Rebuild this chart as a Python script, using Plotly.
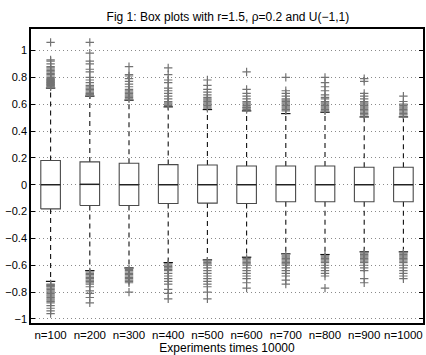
import plotly.graph_objects as go

labels = ["n=100", "n=200", "n=300", "n=400", "n=500", "n=600", "n=700", "n=800", "n=900", "n=1000"]
q3 = [0.18, 0.17, 0.16, 0.15, 0.147, 0.14, 0.14, 0.14, 0.13, 0.13]
q1 = [-0.18, -0.155, -0.155, -0.14, -0.137, -0.14, -0.127, -0.127, -0.127, -0.127]
median = [0.0, 0.003, 0.0, 0.0, 0.0, 0.0, 0.0, 0.0, 0.0, 0.0]
upper_whisker = [0.72, 0.66, 0.63, 0.58, 0.56, 0.55, 0.53, 0.54, 0.505, 0.505]
lower_whisker = [-0.72, -0.64, -0.62, -0.58, -0.56, -0.54, -0.515, -0.52, -0.50, -0.50]

out_n100 = [1.06, 0.93, 0.92, 0.90, 0.88, 0.87, 0.86, 0.85, 0.84, 0.83, 0.82, 0.81, 0.80, 0.79, 0.785, 0.78,
            0.775, 0.77, 0.765, 0.76, 0.755, 0.75, 0.745, 0.74, 0.735, 0.73,
            -0.74, -0.745, -0.75, -0.755, -0.76, -0.77, -0.78, -0.79, -0.80, -0.81, -0.82, -0.83, -0.84,
            -0.85, -0.86, -0.87, -0.88, -0.90, -0.92, -0.94, -0.96]
out_n200 = [1.06, 0.98, 0.92, 0.90, 0.86, 0.84, 0.80, 0.78, 0.76, 0.74, 0.73, 0.72, 0.71, 0.70, 0.69, 0.68,
            0.675, 0.67,
            -0.65, -0.66, -0.67, -0.68, -0.69, -0.70, -0.71, -0.72, -0.73, -0.74, -0.76, -0.79, -0.81,
            -0.84, -0.88]
out_n300 = [0.88, 0.82, 0.81, 0.79, 0.77, 0.75, 0.73, 0.71, 0.70, 0.69, 0.68, 0.67, 0.66, 0.65, 0.64,
            -0.63, -0.64, -0.65, -0.66, -0.67, -0.68, -0.69, -0.70, -0.71, -0.72, -0.73, -0.80]
out_n400 = [0.87, 0.82, 0.78, 0.76, 0.72, 0.70, 0.68, 0.66, 0.64, 0.62, 0.61, 0.60, 0.59,
            -0.59, -0.60, -0.61, -0.62, -0.63, -0.64, -0.66, -0.68, -0.70, -0.72, -0.74, -0.78, -0.81, -0.85]
out_n500 = [0.78, 0.74, 0.71, 0.69, 0.67, 0.65, 0.64, 0.63, 0.62, 0.61, 0.60, 0.59, 0.58, 0.57,
            -0.57, -0.58, -0.59, -0.60, -0.62, -0.64, -0.66, -0.68, -0.70, -0.72, -0.74, -0.76, -0.80, -0.85]
out_n600 = [0.84, 0.71, 0.68, 0.66, 0.64, 0.62, 0.61, 0.60, 0.59, 0.58, 0.575, 0.57, 0.56,
            -0.55, -0.56, -0.57, -0.58, -0.59, -0.60, -0.62, -0.64, -0.66, -0.68, -0.70, -0.73, -0.77]
out_n700 = [0.80, 0.70, 0.68, 0.66, 0.64, 0.63, 0.62, 0.61, 0.60, 0.59, 0.58, 0.57, 0.56, 0.55,
            -0.53, -0.54, -0.55, -0.56, -0.57, -0.58, -0.59, -0.60, -0.62, -0.64, -0.66, -0.68, -0.71, -0.74]
out_n800 = [0.80, 0.76, 0.73, 0.70, 0.67, 0.65, 0.64, 0.62, 0.61, 0.60, 0.59, 0.58, 0.57, 0.56, 0.55,
            -0.53, -0.54, -0.55, -0.56, -0.57, -0.58, -0.60, -0.62, -0.64, -0.66, -0.68, -0.77]
out_n900 = [0.79, 0.77, 0.68, 0.66, 0.64, 0.62, 0.61, 0.60, 0.59, 0.58, 0.57, 0.56, 0.55, 0.54, 0.53, 0.52,
            -0.51, -0.52, -0.53, -0.54, -0.55, -0.56, -0.57, -0.58, -0.60, -0.62, -0.64, -0.70, -0.73]
out_n1000 = [0.66, 0.62, 0.60, 0.59, 0.58, 0.57, 0.56, 0.55, 0.54, 0.53, 0.52,
             -0.51, -0.52, -0.53, -0.54, -0.55, -0.56, -0.57, -0.58, -0.60, -0.62, -0.64, -0.66, -0.68, -0.70]
outliers = [out_n100, out_n200, out_n300, out_n400, out_n500, out_n600, out_n700, out_n800, out_n900, out_n1000]

y_ticks = [-1, -0.8, -0.6, -0.4, -0.2, 0, 0.2, 0.4, 0.6, 0.8, 1]
y_tick_labels = ["\u22121", "\u22120.8", "\u22120.6", "\u22120.4", "\u22120.2", "0", "0.2", "0.4", "0.6", "0.8", "1"]

HALF = 0.25   # half box width
CAP = 0.12    # half cap width
pos = list(range(1, len(labels) + 1))

box_x, box_y = [], []
med_x, med_y = [], []
wh_x, wh_y = [], []
cap_x, cap_y = [], []
out_x, out_y = [], []
for i, p in enumerate(pos):
    box_x += [p - HALF, p + HALF, p + HALF, p - HALF, p - HALF, None]
    box_y += [q1[i], q1[i], q3[i], q3[i], q1[i], None]
    med_x += [p - HALF, p + HALF, None]
    med_y += [median[i], median[i], None]
    wh_x += [p, p, None, p, p, None]
    wh_y += [q3[i], upper_whisker[i], None, q1[i], lower_whisker[i], None]
    cap_x += [p - CAP, p + CAP, None, p - CAP, p + CAP, None]
    cap_y += [upper_whisker[i], upper_whisker[i], None, lower_whisker[i], lower_whisker[i], None]
    out_x += [p] * len(outliers[i])
    out_y += outliers[i]

fig = go.Figure()
fig.add_trace(go.Scatter(x=wh_x, y=wh_y, mode="lines",
                         line=dict(color="#111111", width=1.1, dash="5px,4px"), hoverinfo="skip"))
fig.add_trace(go.Scatter(x=cap_x, y=cap_y, mode="lines",
                         line=dict(color="#111111", width=1.2), hoverinfo="skip"))
fig.add_trace(go.Scatter(x=box_x, y=box_y, mode="lines",
                         line=dict(color="#4a4a4a", width=1.1), hoverinfo="skip"))
fig.add_trace(go.Scatter(x=med_x, y=med_y, mode="lines",
                         line=dict(color="#222222", width=1.5), hoverinfo="skip"))
fig.add_trace(go.Scatter(x=out_x, y=out_y, mode="markers",
                         marker=dict(symbol="cross-thin", size=6, line=dict(color="#737373", width=1.2)),
                         hoverinfo="skip"))

fig.update_layout(
    width=426, height=355,
    margin=dict(l=31, r=1, t=29, b=32),
    paper_bgcolor="white", plot_bgcolor="white",
    showlegend=False,
    font=dict(family="Liberation Sans, Arial, sans-serif", size=11, color="black"),
    title=dict(text="Fig 1: Box plots with r=1.5, \u03c1=0.2 and U(\u22121,1)",
               x=0.535, xanchor="center", y=1 - 17 / 355, yanchor="middle",
               font=dict(size=12, color="black")),
    xaxis=dict(range=[0.5, 10.5], tickvals=pos, ticktext=labels, showgrid=False, zeroline=False,
               showline=True, linecolor="black", linewidth=1.5, mirror=True, ticks="",
               tickfont=dict(size=11.5),
               title=dict(text="Experiments times 10000", standoff=0, font=dict(size=12))),
    yaxis=dict(range=[-1.03, 1.16], tickvals=y_ticks, ticktext=y_tick_labels,
               showgrid=True, gridcolor="#8a8a8a", griddash="1px,3px", gridwidth=1, zeroline=False,
               showline=True, linecolor="black", linewidth=1.5, mirror="ticks",
               ticks="inside", ticklen=4, tickcolor="black", tickfont=dict(size=11)),
)

fig.write_html("out.html", config={"displayModeBar": False},
               post_script="document.body.style.margin='0';")
